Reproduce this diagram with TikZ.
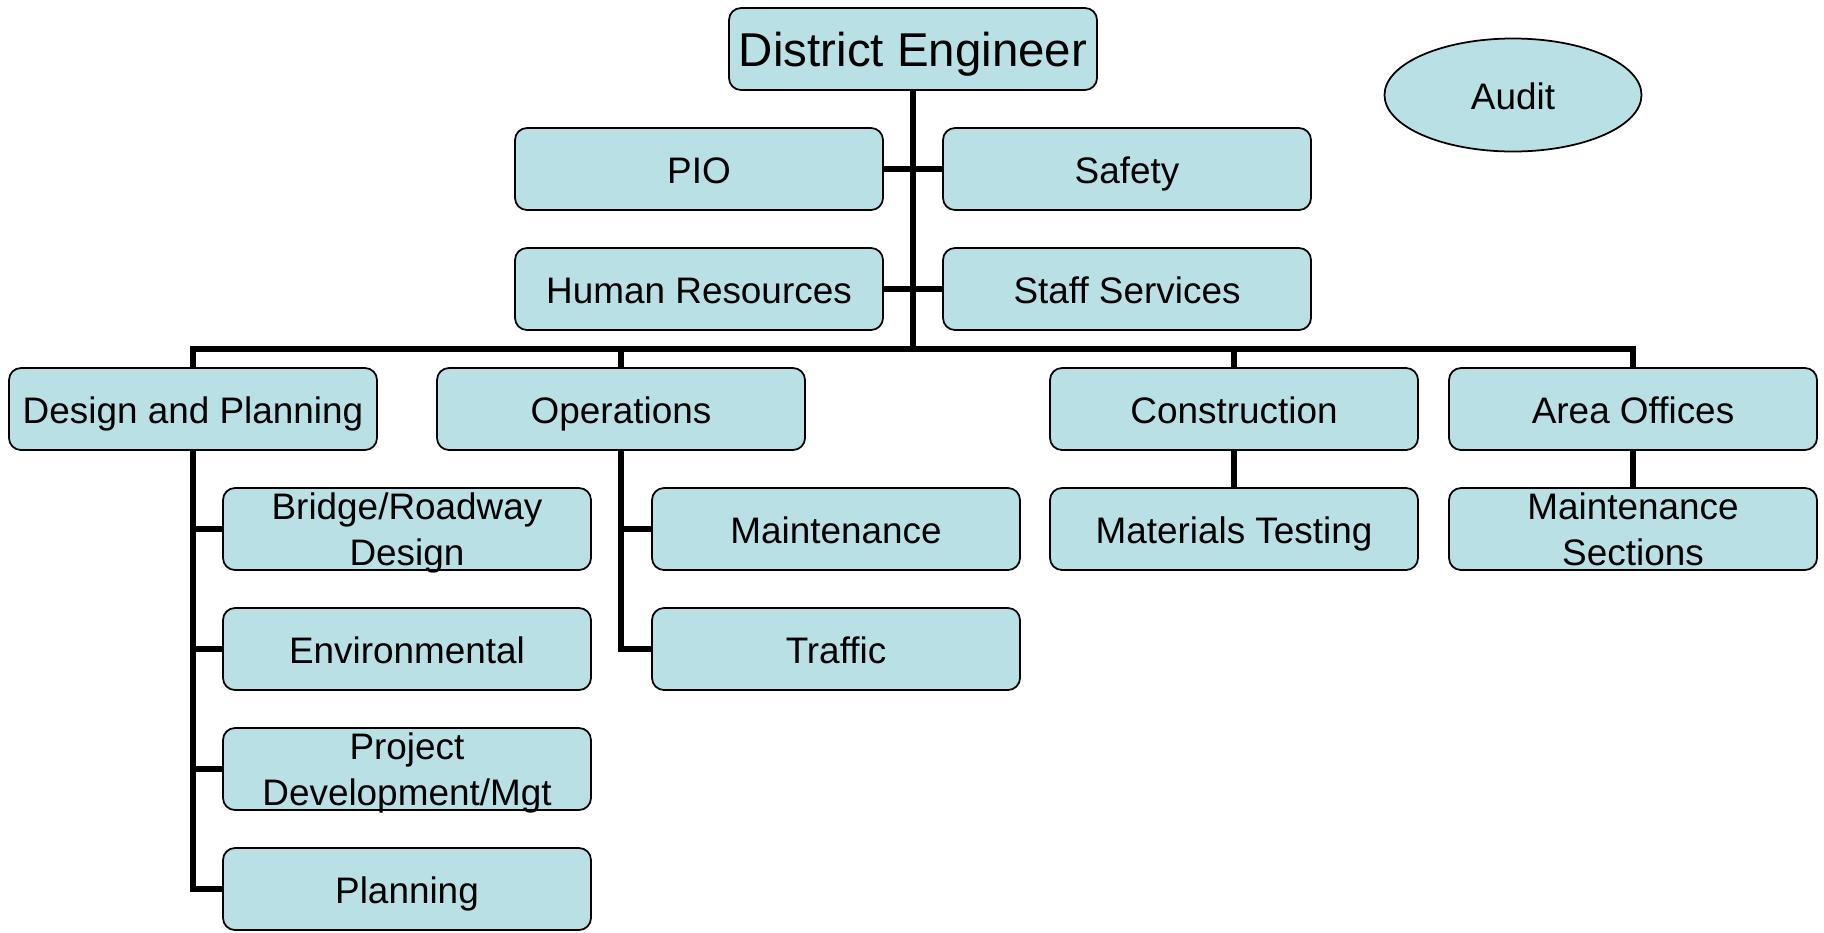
\documentclass[tikz,border=0pt]{standalone}
\usepackage{fontspec}
\setmainfont{Liberation Sans}
\usetikzlibrary{shapes.geometric}
\definecolor{boxfill}{RGB}{185,224,228}
\begin{document}
\begin{tikzpicture}[
    unit/.style={rectangle, rounded corners=0.12cm, draw=black, line width=0.5pt, fill=boxfill,
        minimum width=3.68cm, minimum height=0.82cm, inner sep=0pt, align=center,
        text height=1.05em, text depth=0.25em,
        font=\fontsize{10.5}{13}\selectfont},
    twoline/.style={text height=, text depth=0pt},
    oval/.style={ellipse, draw=black, line width=0.5pt, fill=boxfill,
        minimum width=2.57cm, minimum height=1.13cm, inner sep=0pt,
        text height=1.05em, text depth=0.25em,
        font=\fontsize{10.5}{13}\selectfont},
    link/.style={draw=black, line width=1.6pt}
]
    \useasboundingbox (0,0) rectangle (18.24,-9.32);

    % Top
    \node[unit, font=\fontsize{13.5}{16}\selectfont, text height=13.7pt, text depth=3.5pt] (DE) at (9.13,-0.49) {District Engineer};
    \node[oval] (Audit) at (15.13,-0.95) {Audit};

    % Staff units
    \node[unit] (PIO) at (6.99,-1.69) {PIO};
    \node[unit] (Safety) at (11.27,-1.69) {Safety};
    \node[unit] (HR) at (6.99,-2.89) {Human Resources};
    \node[unit] (Staff) at (11.27,-2.89) {Staff Services};

    % Divisions
    \node[unit] (DP) at (1.93,-4.09) {Design and Planning};
    \node[unit] (Ops) at (6.21,-4.09) {Operations};
    \node[unit] (Cons) at (12.34,-4.09) {Construction};
    \node[unit] (Area) at (16.33,-4.09) {Area Offices};

    % Sections
    \node[unit, twoline] (Bridge) at (4.07,-5.29) {Bridge/Roadway\\Design};
    \node[unit] (Env) at (4.07,-6.49) {Environmental};
    \node[unit, twoline] (Proj) at (4.07,-7.69) {Project\\Development/Mgt};
    \node[unit] (Plan) at (4.07,-8.89) {Planning};
    \node[unit] (Maint) at (8.36,-5.29) {Maintenance};
    \node[unit] (Traffic) at (8.36,-6.49) {Traffic};
    \node[unit] (MatTest) at (12.34,-5.29) {Materials Testing};
    \node[unit, twoline] (MaintSec) at (16.33,-5.29) {Maintenance\\Sections};

    % Lines
    \coordinate (bus) at (9.13,-3.49);
    \draw[link] (DE) -- (bus);
    \draw[link] (PIO) -- (Safety);
    \draw[link] (HR) -- (Staff);
    \draw[link] (DP.north) |- (bus) -| (Area.north);
    \draw[link] (Ops.north) -- (Ops.north |- bus);
    \draw[link] (Cons.north) -- (Cons.north |- bus);

    \draw[link] (DP.south) |- (Plan.west);
    \draw[link] (DP.south |- Bridge) -- (Bridge.west);
    \draw[link] (DP.south |- Env) -- (Env.west);
    \draw[link] (DP.south |- Proj) -- (Proj.west);

    \draw[link] (Ops.south) |- (Traffic.west);
    \draw[link] (Ops.south |- Maint) -- (Maint.west);

    \draw[link] (Cons) -- (MatTest);
    \draw[link] (Area) -- (MaintSec);
\end{tikzpicture}
\end{document}
